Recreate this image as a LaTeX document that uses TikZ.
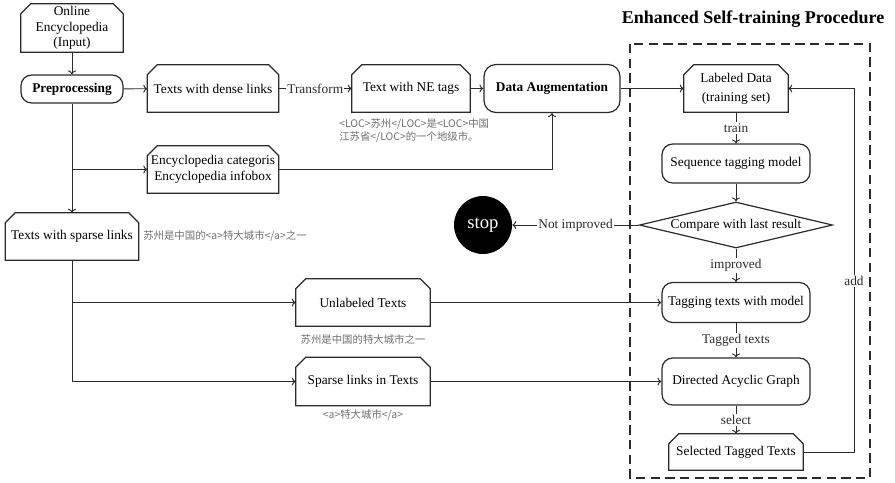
\documentclass[tikz,border=0pt]{standalone}
\usepackage{fontspec}
\setmainfont{Liberation Serif}
\newfontfamily\cjkfont{Noto Sans CJK SC}
\usetikzlibrary{shapes.geometric, arrows.meta, positioning}
\definecolor{stLine}{HTML}{2B2B2B}
\definecolor{stNote}{HTML}{707070}
\tikzset{
  stcard/.style={rectangle, align=center, inner sep=1pt,
    append after command={\pgfextra{
      \draw[stLine, line width=0.9pt] (\tikzlastnode.south west)
        -- ([yshift=-7.5pt]\tikzlastnode.north west) -- ([xshift=7.5pt]\tikzlastnode.north west)
        -- ([xshift=-7.5pt]\tikzlastnode.north east) -- ([yshift=-7.5pt]\tikzlastnode.north east)
        -- (\tikzlastnode.south east) -- cycle;}}},
  stround/.style={rectangle, rounded corners=8pt, draw=stLine, line width=0.9pt,
    fill=white, align=center, inner sep=1pt},
  stcheck/.style={diamond, aspect=4.2, draw=stLine, line width=0.9pt, fill=white,
    inner sep=0pt, minimum width=144.75pt, minimum height=34.5pt},
  ststop/.style={circle, fill=black, text=white, minimum size=43.5pt, inner sep=0pt,
    font=\fontsize{14}{16}\selectfont},
  starrow/.style={-{To[length=3pt,width=6pt]}, line width=0.7pt, stLine},
  stlabel/.style={fill=white, inner sep=1pt},
  stnote/.style={text=stNote, font=\cjkfont\fontsize{7.8}{10}\selectfont, align=left, inner sep=0pt},
  stframe/.style={draw=stLine, line width=1.4pt, dash pattern=on 7pt off 4pt}
}

\begin{document}
\begin{tikzpicture}[x=0.75pt, y=-0.75pt]
  \useasboundingbox (0,0) rectangle (895,482);

  % self-training frame and title
  \draw[stframe] (630,44) rectangle (870,478);
  \node[font=\bfseries\fontsize{13.5}{16}\selectfont, anchor=east] (title) at (889,19) {Enhanced Self-training Procedure};

  % preprocessing side
  \node[stcard, minimum width=76.5pt, minimum height=36pt, font=\fontsize{10}{11.5}\selectfont] (online) at (72,28) {Online\\Encyclopedia\\(Input)};
  \node[stround, minimum width=76.5pt, minimum height=21pt, font=\bfseries] (prep) at (72,89) {Preprocessing};
  \node[stcard, minimum width=98.25pt, minimum height=35.25pt] (dense) at (213,88.5) {Texts with dense links};
  \node[stcard, minimum width=88.5pt, minimum height=35.25pt] (netag) at (411,88.5) {Text with NE tags};
  \node[stround, rounded corners=9pt, minimum width=102pt, minimum height=36pt, font=\bfseries] (aug) at (552,88.5) {Data Augmentation};
  \node[stcard, minimum width=98.25pt, minimum height=35.25pt] (ency) at (213,169.5) {Encyclopedia categoris\\Encyclopedia infobox};
  \node[stcard, minimum width=99.75pt, minimum height=35.25pt] (sparse) at (72,236.5) {Texts with sparse links};
  \node[stcard, minimum width=100.5pt, minimum height=35.25pt] (unlab) at (363,302.5) {Unlabeled Texts};
  \node[stcard, minimum width=100.5pt, minimum height=36pt] (slinks) at (363,381.5) {Sparse links in Texts};

  % examples
  \node[stnote, anchor=north west] (nenote) at (339,118) {<LOC>苏州</LOC>是<LOC>中国\\江苏省</LOC>的一个地级市。};
  \node[stnote, anchor=west] (sparsenote) at (143,236.5) {苏州是中国的<a>特大城市</a>之一};
  \node[stnote] (unlabnote) at (363,340) {苏州是中国的特大城市之一};
  \node[stnote] (slinksnote) at (363,415) {<a>特大城市</a>};

  % self-training loop
  \node[stcard, minimum width=78pt, minimum height=35.25pt] (labeled) at (736,88.5) {Labeled Data\\[2pt](training set)};
  \node[stround, minimum width=111pt, minimum height=29.25pt] (seqm) at (736,163.5) {Sequence tagging model};
  \node[stcheck] (cmp) at (736,225) {Compare with last result};
  \node[ststop] (stop) at (483,225) {stop};
  \node[stround, minimum width=111pt, minimum height=30pt] (tagm) at (736,302.5) {Tagging texts with model};
  \node[stround, minimum width=111pt, minimum height=35.25pt] (dag) at (736,381.5) {Directed Acyclic Graph};
  \node[stcard, minimum width=100.5pt, minimum height=27pt] (sel) at (736,452) {Selected Tagged Texts};
  \coordinate (addlow) at (854,452);
  \coordinate (addhigh) at (854,88.5);

  % connectors
  \draw[starrow] (online) -- (prep);
  \draw[starrow] (prep) -- (dense);
  \draw[starrow] (dense) -- node[stlabel] {Transform} (netag);
  \draw[starrow] (netag) -- (aug);
  \draw[starrow] (prep) -- (sparse);
  \draw[starrow] (prep.south |- ency.west) -- (ency.west);
  \draw[starrow] (ency) -| (aug);
  \draw[starrow] (sparse) |- (unlab);
  \draw[starrow] (sparse) |- (slinks);
  \draw[starrow] (aug) -- (labeled);
  \draw[starrow] (labeled) -- node[stlabel] {train} (seqm);
  \draw[starrow] (seqm) -- (cmp);
  \draw[starrow] (cmp) -- node[stlabel] {Not improved} (stop);
  \draw[starrow] (cmp) -- node[stlabel] {improved} (tagm);
  \draw[starrow] (unlab) -- (tagm);
  \draw[starrow] (tagm) -- node[stlabel] {Tagged texts} (dag);
  \draw[starrow] (slinks) -- (dag);
  \draw[starrow] (dag) -- node[stlabel] {select} (sel);
  \draw[starrow] (sel) -- (addlow) -- node[stlabel, pos=0.47] {add} (addhigh) -- (labeled);
\end{tikzpicture}
\end{document}
